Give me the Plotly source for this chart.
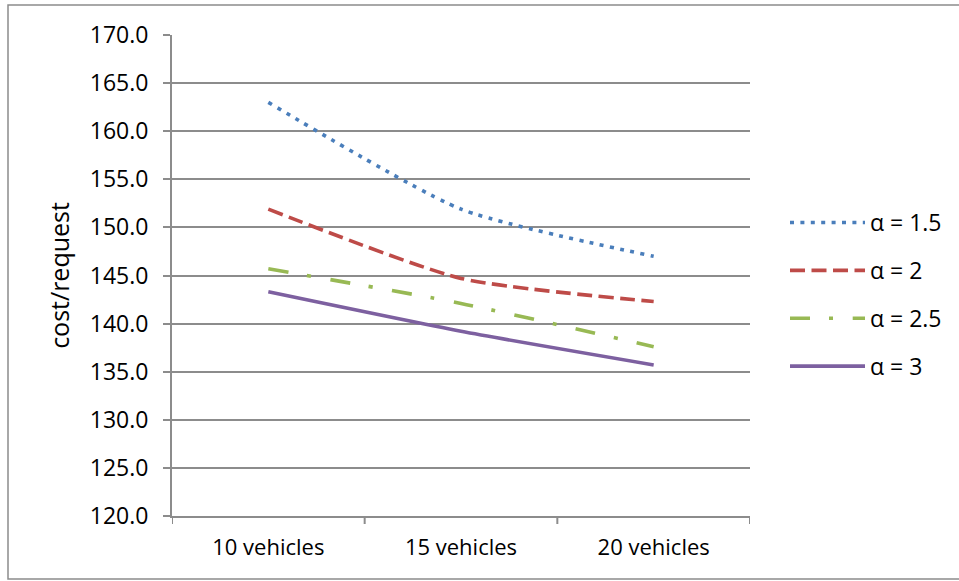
import plotly.graph_objects as go

categories = ["10 vehicles", "15 vehicles", "20 vehicles"]
series_names = ["α = 1.5", "α = 2", "α = 2.5", "α = 3"]
alpha_15 = [163.0, 151.9, 147.0]
alpha_2 = [151.9, 144.7, 142.3]
alpha_25 = [145.7, 142.1, 137.6]
alpha_3 = [143.3, 139.2, 135.7]
y_ticks = [120, 125, 130, 135, 140, 145, 150, 155, 160, 165, 170]
y_tick_labels = ["%.1f" % v for v in y_ticks]

values = [alpha_15, alpha_2, alpha_25, alpha_3]
colors = ["#4A7EBB", "#BE4B48", "#98B954", "#7D60A0"]
dashes = ["4px,6.4px", "15px,6.5px", "20px,19px,4px,19.7px", "solid"]

W, H = 959, 581
L, R, T, B = 172, 209, 35, 65
pw, ph = W - L - R, H - T - B

fig = go.Figure()
for i, (name, vals, c, d) in enumerate(zip(series_names, values, colors, dashes)):
    fig.add_trace(go.Scatter(
        x=[0, 1, 2], y=vals, name=name, mode="lines", legendgroup="g%d" % i,
        line=dict(color=c, width=3.6, dash=d, shape="spline", smoothing=0.6),
    ))

font = "'Open Sans', Lato, sans-serif"
fig.update_layout(
    width=W, height=H,
    margin=dict(l=L, r=R, t=T, b=B),
    paper_bgcolor="white", plot_bgcolor="white",
    font=dict(family=font, size=22, color="#000000"),
    showlegend=True,
    legend=dict(
        x=(785 - L) / pw, y=(516 - 201) / ph, xanchor="left", yanchor="top",
        itemwidth=75, tracegroupgap=15, font=dict(size=23),
        bgcolor="rgba(0,0,0,0)",
    ),
    xaxis=dict(
        range=[-0.5, 2.5], tickmode="array", tickvals=[0, 1, 2], ticktext=categories,
        tickfont=dict(size=22),
        showgrid=False, zeroline=False, showline=True, linecolor="#8c8c8c", linewidth=2,
        ticks="outside", ticklen=11, tickcolor="rgba(0,0,0,0)", fixedrange=True,
    ),
    yaxis=dict(
        range=[120, 170], tickmode="array", tickvals=y_ticks, ticktext=y_tick_labels,
        tickfont=dict(size=23),
        showgrid=True, gridcolor="#8c8c8c", gridwidth=2, zeroline=False,
        showline=True, linecolor="#8c8c8c", linewidth=2,
        ticks="outside", ticklen=7, tickcolor="#8c8c8c", tickwidth=2,
        ticklabelstandoff=10,
        title=dict(text="cost/request", standoff=13, font=dict(size=25)),
    ),
)

# category boundary tick marks below x axis
for xb in [-0.5, 0.5, 1.5, 2.5]:
    fig.add_shape(type="line", xref="x", yref="paper", x0=xb, x1=xb,
                  y0=0, y1=-8 / ph, line=dict(color="#8c8c8c", width=2))

# outer chart border
fig.add_shape(type="rect", xref="paper", yref="paper",
              x0=(8 - L) / pw, x1=(965 - L) / pw,
              y0=(516 - 579) / ph, y1=(516 - 5) / ph,
              line=dict(color="#8c8c8c", width=1.5), layer="below")

fig.write_html("out.html", config={"displayModeBar": False},
               post_script="document.body.style.margin='0';")
